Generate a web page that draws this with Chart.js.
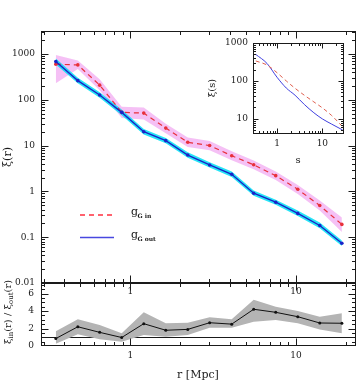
<!DOCTYPE html>
<html><head><meta charset="utf-8">
<script src="https://cdn.jsdelivr.net/npm/chart.js@4.4.0/dist/chart.umd.min.js"></script>
<style>
html,body{margin:0;padding:0;background:#fff;width:360px;height:384px;overflow:hidden}
canvas{position:absolute;left:0;top:0}
</style></head><body>
<canvas id="main" width="360" height="384"></canvas>
<canvas id="ratio" width="360" height="384"></canvas>
<canvas id="inset" width="360" height="384"></canvas>
<script>
// ---- data ----
const rValues = [0.355,0.482,0.653,0.887,1.205,1.636,2.22,3.01,4.09,5.55,7.54,10.24,13.9,18.9];
const xiIn    = [596,575,208,53,51,24,11.8,10,6.0,3.8,2.2,1.11,0.49,0.19];
const xiInHi  = [950,714,280,70,68,30,15,12.6,7.5,4.7,2.7,1.38,0.63,0.27];
const xiInLo  = [230,470,160,40,37,18.6,9.3,7.9,4.8,3.05,1.78,0.88,0.38,0.13];
const xiOut   = [680,261,127,53,20,12.8,6.2,3.77,2.36,0.91,0.58,0.33,0.18,0.0736];
const xiOutHi = [790,300,146,61,23,14.7,7.1,4.3,2.7,1.04,0.66,0.38,0.21,0.085];
const xiOutLo = [590,228,111,46,17.5,11.2,5.4,3.3,2.06,0.8,0.51,0.29,0.157,0.064];
const ratio   = [0.85,2.2,1.56,0.97,2.55,1.8,1.9,2.66,2.5,4.2,3.85,3.35,2.63,2.6];
const ratioHi = [1.7,3.05,2.4,1.45,3.85,2.6,2.66,3.28,3.05,5.3,4.5,4.0,3.35,3.74];
const ratioLo = [0.25,1.34,0.77,0.5,1.26,1.06,1.26,2.1,2.1,2.78,2.97,2.6,1.9,1.45];
const sValues = [0.34,0.6,1.0,1.6,2.5,4.0,6.5,10,16,28];
const xiSIn   = [336,263,165,100,64,42,28,19.5,12.3,6.2];
const xiSOut  = [500,290,125,65,42,24,14.5,10,7.3,5.1];
const mainYTicks = [0.01,0.1,1,10,100,1000];
const mainYLabels = ['0.01','0.1','1','10','100','1000'];
const xTicks = [1,10];
const xLabels = ['1','10'];
const ratioYTicks = [0,2,4,6];
const insetYTicks = [10,100,1000];
const insetYLabels = ['10','100','1000'];

const SERIF = '"DejaVu Serif", serif';
const INK = '#1a1a1a';
const RED = '#e8303a', BLUE = '#1a22c8';

function pts(xs, ys){ return xs.map((x,i)=>({x:x, y:ys[i]})); }
function logTicks(min,max){
  const out=[];
  for(let d=Math.floor(Math.log10(min))-1; d<=Math.ceil(Math.log10(max)); d++){
    for(let m=1;m<=9;m++){
      const v=m*Math.pow(10,d);
      if(v>=min*0.999 && v<=max*1.001) out.push({v:v, major:m===1});
    }
  }
  return out;
}
function linTicks(min,max,step,majorEvery){
  const out=[];
  for(let v=min; v<=max+1e-9; v+=step){ out.push({v:v, major:Math.abs(v/majorEvery-Math.round(v/majorEvery))<1e-6}); }
  return out;
}
function frameAndTicks(chart, xt, yt, maj, min){
  const ctx=chart.ctx, a=chart.chartArea, x=chart.scales.x, y=chart.scales.y;
  ctx.save();
  ctx.setLineDash([]);
  ctx.strokeStyle=INK; ctx.lineWidth=1;
  const L=Math.round(a.left)+0.5, R=Math.round(a.right)-0.5, T=Math.round(a.top)+0.5, B=Math.round(a.bottom)-0.5;
  ctx.strokeRect(L,T,R-L,B-T);
  ctx.beginPath();
  xt.forEach(t=>{
    const p=Math.round(x.getPixelForValue(t.v))+0.5; const len=t.major?maj:min;
    if(p<L-0.1||p>R+0.1) return;
    ctx.moveTo(p,B); ctx.lineTo(p,B-len);
    ctx.moveTo(p,T); ctx.lineTo(p,T+len);
  });
  yt.forEach(t=>{
    const p=Math.round(y.getPixelForValue(t.v))+0.5; const len=t.major?maj:min;
    if(p<T-0.1||p>B+0.1) return;
    ctx.moveTo(L,p); ctx.lineTo(L+len,p);
    ctx.moveTo(R,p); ctx.lineTo(R-len,p);
  });
  ctx.stroke();
  ctx.restore();
}
function text(ctx, s, x, y, font, align, base){
  ctx.font=font; ctx.textAlign=align||'center'; ctx.textBaseline=base||'middle'; ctx.fillStyle=INK; ctx.fillText(s,x,y);
}
function richRotated(ctx, parts, cx, cy){
  ctx.save();
  ctx.translate(cx,cy); ctx.rotate(-Math.PI/2);
  let w=0; parts.forEach(p=>{ctx.font=p.font; w+=ctx.measureText(p.t).width;});
  let xx=-w/2;
  ctx.fillStyle=INK; ctx.textBaseline='middle'; ctx.textAlign='left';
  parts.forEach(p=>{ctx.font=p.font; ctx.fillText(p.t,xx,p.dy||0); xx+=ctx.measureText(p.t).width;});
  ctx.restore();
}
function legendLine(ctx, x0, x1, y, color, dash){
  ctx.save();
  ctx.beginPath();
  ctx.moveTo(x0,y); ctx.lineTo(x1,y);
  ctx.lineWidth=1.3;
  ctx.setLineDash(dash);
  ctx.strokeStyle=color;
  ctx.globalAlpha=1;
  ctx.stroke();
  ctx.restore();
}

const baseOpts = (pad)=>({
  responsive:false, animation:false, devicePixelRatio:1,
  layout:{padding:pad},
  plugins:{legend:{display:false}, tooltip:{enabled:false}},
  elements:{line:{tension:0}},
});

// ---- main panel ----
const mainDecor = {
  id:'mainDecor',
  afterDraw(chart){
    const ctx=chart.ctx, a=chart.chartArea, x=chart.scales.x, y=chart.scales.y;
    frameAndTicks(chart, logTicks(x.min,x.max), logTicks(y.min,y.max), 7, 3.5);
    mainYTicks.forEach((v,i)=>text(ctx, mainYLabels[i], a.left-6, y.getPixelForValue(v), '9px '+SERIF, 'right'));
    xTicks.forEach((v,i)=>text(ctx, xLabels[i], x.getPixelForValue(v), a.bottom+9, '9px '+SERIF, 'center'));
    richRotated(ctx, [{t:'ξ(r)', font:'11px '+SERIF}], 8, 157);
    legendLine(ctx, 80, 113, 215, '#ff2f3f', [5,4]);
    legendLine(ctx, 80, 114, 237.5, '#4848e0', []);
    text(ctx,'g',131,212,'11px '+SERIF,'left');
    text(ctx,'G in',137.5,216.5,'bold 6px '+SERIF,'left');
    text(ctx,'g',131,235,'11px '+SERIF,'left');
    text(ctx,'G out',137.5,239.5,'bold 6px '+SERIF,'left');
  }
};
new Chart(document.getElementById('main'), {
  type:'line',
  data:{datasets:[
    {data:pts(rValues,xiInLo), borderWidth:0, pointRadius:0, fill:false, order:4},
    {data:pts(rValues,xiInHi), borderWidth:0, pointRadius:0, fill:'-1', backgroundColor:'rgba(238,150,238,0.6)', order:4},
    {data:pts(rValues,xiOutLo), borderWidth:0, pointRadius:0, fill:false, order:3},
    {data:pts(rValues,xiOutHi), borderWidth:0, pointRadius:0, fill:'-1', backgroundColor:'rgba(0,225,245,0.85)', order:3},
    {data:pts(rValues,xiIn), borderColor:RED, borderWidth:1.2, borderDash:[5,4], pointRadius:1.8, pointBackgroundColor:RED, pointBorderWidth:0, fill:false, order:1},
    {data:pts(rValues,xiOut), borderColor:BLUE, borderWidth:1.4, pointRadius:1.8, pointBackgroundColor:BLUE, pointBorderWidth:0, fill:false, order:0},
  ]},
  options:Object.assign(baseOpts({left:41,top:31,right:4,bottom:101}),{
    scales:{
      x:{type:'logarithmic', min:0.289, max:23.0, display:false},
      y:{type:'logarithmic', min:0.01, max:3162, display:false}
    }
  }),
  plugins:[mainDecor]
});

// ---- ratio panel ----
const ratioDecor = {
  id:'ratioDecor',
  beforeDatasetsDraw(chart){
    const ctx=chart.ctx, a=chart.chartArea, y=chart.scales.y;
    const p=Math.round(y.getPixelForValue(1))+0.5;
    ctx.save(); ctx.strokeStyle=INK; ctx.lineWidth=1;
    ctx.beginPath(); ctx.moveTo(a.left,p); ctx.lineTo(a.right,p); ctx.stroke(); ctx.restore();
  },
  afterDraw(chart){
    const ctx=chart.ctx, a=chart.chartArea, x=chart.scales.x, y=chart.scales.y;
    frameAndTicks(chart, logTicks(x.min,x.max), linTicks(0,7,0.5,2), 7, 3.5);
    ratioYTicks.forEach(v=>text(ctx, String(v), a.left-7, y.getPixelForValue(v), '9px '+SERIF, 'right'));
    xTicks.forEach((v,i)=>text(ctx, xLabels[i], x.getPixelForValue(v), a.bottom+10, '9px '+SERIF, 'center'));
    text(ctx, 'r [Mpc]', 198, 375, '11px '+SERIF, 'center');
    const f='10px '+SERIF, fs='7px '+SERIF;
    richRotated(ctx, [
      {t:'ξ',font:f},{t:'in',font:fs,dy:3},{t:'(r) / ξ',font:f},{t:'out',font:fs,dy:3},{t:'(r)',font:f}
    ], 8, 312);
  }
};
new Chart(document.getElementById('ratio'), {
  type:'line',
  data:{datasets:[
    {data:pts(rValues,ratioLo), borderWidth:0, pointRadius:0, fill:false, order:2},
    {data:pts(rValues,ratioHi), borderWidth:0, pointRadius:0, fill:'-1', backgroundColor:'#b4b4b4', order:2},
    {data:pts(rValues,ratio), borderColor:'#111', borderWidth:1, pointRadius:1.5, pointBackgroundColor:'#111', pointBorderWidth:0, fill:false, order:0},
  ]},
  options:Object.assign(baseOpts({left:41,top:283,right:4,bottom:38}),{
    scales:{
      x:{type:'logarithmic', min:0.289, max:23.0, display:false},
      y:{type:'linear', min:0, max:7.2, display:false}
    }
  }),
  plugins:[ratioDecor]
});

// ---- inset ----
const insetDecor = {
  id:'insetDecor',
  beforeDraw(chart){
    const ctx=chart.ctx, a=chart.chartArea;
    ctx.save(); ctx.fillStyle='#fff'; ctx.fillRect(a.left,a.top,a.right-a.left,a.bottom-a.top); ctx.restore();
  },
  afterDraw(chart){
    const ctx=chart.ctx, a=chart.chartArea, x=chart.scales.x, y=chart.scales.y;
    frameAndTicks(chart, logTicks(x.min,x.max), logTicks(y.min,y.max), 5, 2.5);
    insetYTicks.forEach((v,i)=>text(ctx, insetYLabels[i], a.left-5, y.getPixelForValue(v), '9px '+SERIF, 'right'));
    xTicks.forEach((v,i)=>text(ctx, xLabels[i], x.getPixelForValue(v), a.bottom+10, '9px '+SERIF, 'center'));
    text(ctx,'s',298,160,'10px '+SERIF,'center');
    richRotated(ctx, [{t:'ξ(s)', font:'10px '+SERIF}], 212, 88);
  }
};
new Chart(document.getElementById('inset'), {
  type:'line',
  data:{datasets:[
    {data:pts(sValues,xiSIn), borderColor:'#e06050', borderWidth:1, borderDash:[4,3], pointRadius:0, fill:false, tension:0.4, cubicInterpolationMode:'monotone'},
    {data:pts(sValues,xiSOut), borderColor:'#4040e0', borderWidth:1, pointRadius:0, fill:false, tension:0.4, cubicInterpolationMode:'monotone'},
  ]},
  options:Object.assign(baseOpts({left:253,top:43,right:16,bottom:250}),{
    scales:{
      x:{type:'logarithmic', min:0.295, max:30, display:false},
      y:{type:'logarithmic', min:4, max:1000, display:false}
    }
  }),
  plugins:[insetDecor]
});
</script>
</body></html>
